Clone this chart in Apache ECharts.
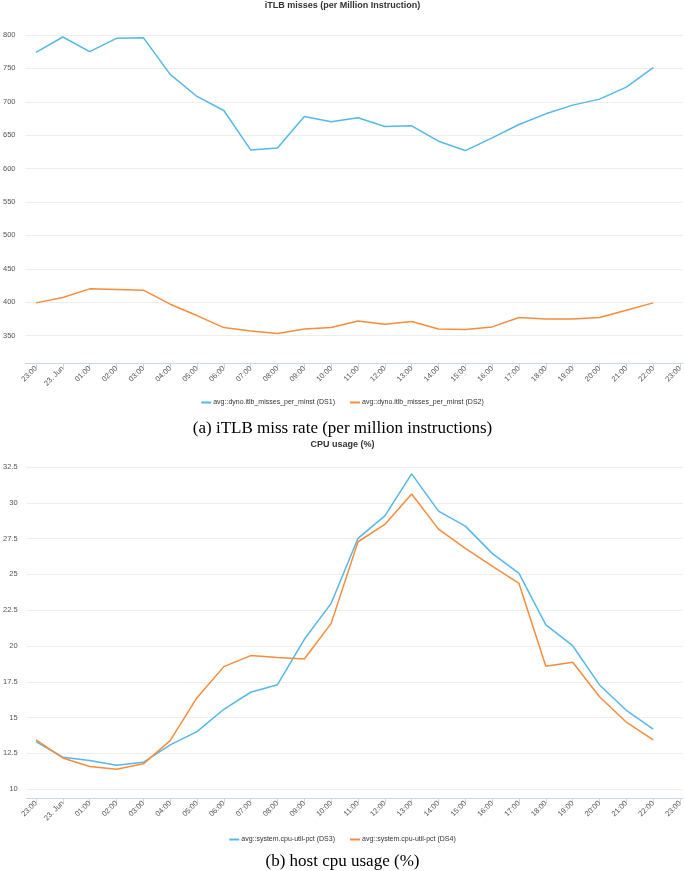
<!DOCTYPE html>
<html>
<head>
<meta charset="utf-8">
<script src="https://cdn.jsdelivr.net/npm/echarts@6/dist/echarts.min.js"></script>
<style>
  html, body { margin: 0; padding: 0; background: #fff; }
  #chart { width: 685px; height: 871px; }
</style>
</head>
<body>
<div id="chart"></div>
<script>
// ---- data ----
const hourLabels = ['23:00', '23. Jun', '01:00', '02:00', '03:00', '04:00', '05:00', '06:00', '07:00',
  '08:00', '09:00', '10:00', '11:00', '12:00', '13:00', '14:00', '15:00', '16:00', '17:00',
  '18:00', '19:00', '20:00', '21:00', '22:00', '23:00'];

const itlbDS1 = [774, 797, 775, 795, 796, 741, 708, 687, 628, 631, 678, 670, 676, 663, 664, 641, 627, 646, 666, 682, 695, 704, 722, 751];
const itlbDS2 = [399, 407, 420, 419, 418, 397, 380, 362, 357, 353, 360, 362, 372, 367, 371, 360, 359, 363, 377, 375, 375, 377, 388, 399];

const cpuDS3 = [13.32, 12.23, 12.0, 11.67, 11.88, 13.09, 14.02, 15.58, 16.77, 17.30, 20.47, 22.98, 27.52, 29.09, 32.02, 29.42, 28.37, 26.47, 25.07, 21.47, 20.02, 17.28, 15.51, 14.19];
const cpuDS4 = [13.44, 12.18, 11.58, 11.40, 11.77, 13.39, 16.39, 18.56, 19.33, 19.19, 19.09, 21.58, 27.28, 28.49, 30.61, 28.16, 26.82, 25.58, 24.37, 18.58, 18.86, 16.46, 14.68, 13.44];

const itlbNames = ['avg::dyno.itlb_misses_per_minst (DS1)', 'avg::dyno.itlb_misses_per_minst (DS2)'];
const cpuNames = ['avg::system.cpu-util-pct (DS3)', 'avg::system.cpu-util-pct (DS4)'];

const titles = ['iTLB misses (per Million Instruction)', 'CPU usage (%)'];
const captions = ['(a) iTLB miss rate (per million instructions)', '(b) host cpu usage (%)'];

// ---- styles ----
const BLUE = '#55b8e8';
const ORANGE = '#f78c3c';
const AXIS = '#ccd6eb';
const GRIDLINE = '#eeeeee';
const LABEL = '#555555';
const SANS = 'Liberation Sans, Arial, sans-serif';
const SERIF = 'Liberation Serif, Times New Roman, serif';

function bgX(gridIndex, offset) {
  return {
    type: 'value', gridIndex: gridIndex, min: 0, max: 1, offset: offset,
    axisLine: { show: true, onZero: false, lineStyle: { color: AXIS, width: 1 } },
    axisTick: { show: false }, axisLabel: { show: false }, splitLine: { show: false }
  };
}
function fgX(gridIndex, offset) {
  return {
    type: 'category', gridIndex: gridIndex, data: hourLabels, boundaryGap: false, offset: offset,
    axisLine: { show: false, onZero: false },
    axisTick: { show: true, length: 5, lineStyle: { color: AXIS }, interval: 0 },
    axisLabel: { rotate: 45, interval: 0, fontSize: 7.5, color: LABEL, fontFamily: SANS, margin: 4 },
    splitLine: { show: false }
  };
}
function bgY(gridIndex, min, max, interval, margin) {
  return {
    type: 'value', gridIndex: gridIndex, min: min, max: max, interval: interval,
    axisLine: { show: false }, axisTick: { show: false },
    axisLabel: { showMinLabel: false, fontSize: 7.5, color: LABEL, fontFamily: SANS, margin: margin },
    splitLine: { show: true, showMinLine: false, lineStyle: { color: GRIDLINE, width: 1 } }
  };
}
function fgY(gridIndex, min, max) {
  return { type: 'value', gridIndex: gridIndex, min: min, max: max, show: false, splitLine: { show: false } };
}
function line(name, data, color, xi, yi) {
  return {
    type: 'line', name: name, data: data, xAxisIndex: xi, yAxisIndex: yi,
    showSymbol: false, symbol: 'none', smooth: false, animation: false,
    lineStyle: { color: color, width: 1.5 }, itemStyle: { color: color }
  };
}
function legend(names, top) {
  return {
    data: names, left: 'center', top: top, icon: 'rect', itemWidth: 10, itemHeight: 2, itemGap: 15,
    textStyle: { fontSize: 7, color: '#333', fontFamily: SANS, padding: [0, 0, 0, -3] }, selectedMode: false
  };
}

const option = {
  animation: false,
  backgroundColor: '#ffffff',
  title: [
    { text: titles[0], left: 'center', top: -4, textStyle: { fontSize: 9, fontWeight: 'bold', color: '#333', fontFamily: SANS } },
    { text: titles[1], left: 'center', top: 435, textStyle: { fontSize: 9, fontWeight: 'bold', color: '#333', fontFamily: SANS } },
    { text: captions[0], left: 'center', top: 415, textStyle: { fontSize: 17, fontWeight: 'normal', color: '#000', fontFamily: SERIF } },
    { text: captions[1], left: 'center', top: 848, textStyle: { fontSize: 17, fontWeight: 'normal', color: '#000', fontFamily: SERIF } }
  ],
  legend: [legend(itlbNames, 394), legend(cpuNames, 831)],
  grid: [
    { left: 24, right: 2, top: 35, height: 334 },
    { left: 36, right: 5, top: 35, height: 334 },
    { left: 25, right: 2, top: 467, height: 358 },
    { left: 36, right: 5, top: 467, height: 358 }
  ],
  xAxis: [bgX(0, -5.7), fgX(1, -5.7), bgX(2, -26.9), fgX(3, -26.9)],
  yAxis: [bgY(0, 300, 800, 50, 10), fgY(1, 300, 800), bgY(2, 7.5, 32.5, 2.5, 9), fgY(3, 7.5, 32.5)],
  series: [
    line(itlbNames[0], itlbDS1, BLUE, 1, 1),
    line(itlbNames[1], itlbDS2, ORANGE, 1, 1),
    line(cpuNames[0], cpuDS3, BLUE, 3, 3),
    line(cpuNames[1], cpuDS4, ORANGE, 3, 3)
  ]
};

const chart = echarts.init(document.getElementById('chart'), null, { renderer: 'canvas' });
chart.setOption(option);
</script>
</body>
</html>
